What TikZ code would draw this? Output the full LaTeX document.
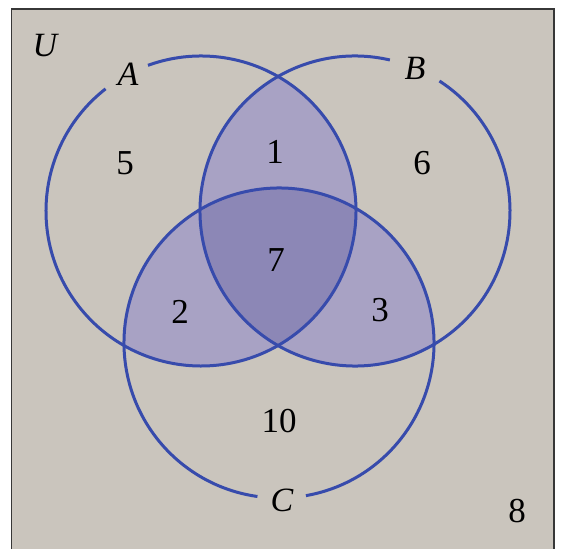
\documentclass[tikz,border=0pt]{standalone}
\usepackage{fontspec}
\setmainfont{Liberation Serif}
\usetikzlibrary{calc}
\definecolor{paper}{RGB}{202,197,189}
\definecolor{lightv}{RGB}{168,162,196}
\definecolor{darkv}{RGB}{140,135,182}
\definecolor{ring}{RGB}{55,75,172}
\definecolor{frame}{RGB}{55,55,55}
\tikzset{
  ringline/.style={draw=ring, line width=3pt},
  lbl/.style={inner sep=0pt, font=\fontsize{35}{40}\selectfont},
  setlbl/.style={lbl, font=\fontsize{34}{40}\selectfont\itshape},
}
\begin{document}
\begin{tikzpicture}[x=1pt,y=1pt]
\useasboundingbox (0,0) rectangle (564,549);
\fill[white] (0,0) rectangle (564,549);
\fill[paper] (11.5,0) rectangle (554,540);
\draw[frame, line width=1.5pt] (11.5,0) -- (11.5,540) -- (554,540) -- (554,0);
\def\R{155}
\coordinate (cA) at (201,338);
\coordinate (cB) at (355,338);
\coordinate (cC) at (279,206);
% pairwise intersections
\begin{scope}
  \clip (cA) circle[radius=\R];
  \fill[lightv] (cB) circle[radius=\R];
  \fill[lightv] (cC) circle[radius=\R];
\end{scope}
\begin{scope}
  \clip (cB) circle[radius=\R];
  \fill[lightv] (cC) circle[radius=\R];
\end{scope}
\begin{scope}
  \clip (cA) circle[radius=\R];
  \clip (cB) circle[radius=\R];
  \fill[darkv] (cC) circle[radius=\R];
\end{scope}
% circles with gaps for labels
\draw[ringline] ($(cA)+(128:\R)$) arc[start angle=128, end angle=470, radius=\R];
\draw[ringline] ($(cB)+(77:\R)$) arc[start angle=77, end angle=417, radius=\R];
\draw[ringline] ($(cC)+(-80:\R)$) arc[start angle=-80, end angle=262, radius=\R];
% labels
\node[setlbl] (U) at (45,503) {U};
\node[setlbl] (A) at (128,475) {A};
\node[setlbl] (B) at (415,481) {B};
\node[setlbl] (C) at (282,49) {C};
\node[lbl] (n5) at (125,386) {5};
\node[lbl] (n1) at (275,397) {1};
\node[lbl] (n6) at (422,386) {6};
\node[lbl] (n7) at (276,289) {7};
\node[lbl] (n2) at (180,237) {2};
\node[lbl] (n3) at (380,239) {3};
\node[lbl] (n10) at (279,128) {10};
\node[lbl] (n8) at (517,38) {8};
\end{tikzpicture}
\end{document}
